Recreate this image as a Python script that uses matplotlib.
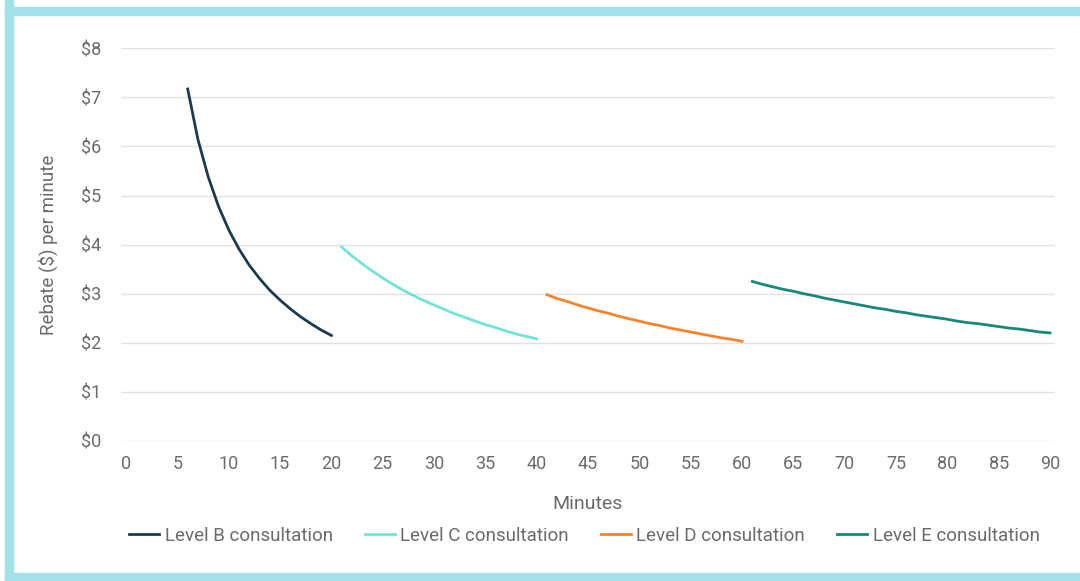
import matplotlib.pyplot as plt
from matplotlib.patches import Rectangle

plt.rcParams['font.family'] = ['Roboto', 'DejaVu Sans']

# rebate per minute at each whole minute
level_b_min = list(range(6, 21))
level_b = [7.17, 6.14, 5.38, 4.78, 4.30, 3.91, 3.58, 3.31, 3.07, 2.87,
           2.69, 2.53, 2.39, 2.26, 2.15]

level_c_min = list(range(21, 41))
level_c = [3.95, 3.77, 3.61, 3.46, 3.32, 3.19, 3.07, 2.96, 2.86, 2.77,
           2.68, 2.59, 2.52, 2.44, 2.37, 2.31, 2.24, 2.18, 2.13, 2.08]

level_d_min = list(range(41, 61))
level_d = [2.98, 2.90, 2.84, 2.77, 2.71, 2.65, 2.60, 2.54, 2.49, 2.44,
           2.39, 2.35, 2.30, 2.26, 2.22, 2.18, 2.14, 2.10, 2.07, 2.03]

level_e_min = list(range(61, 91))
level_e = [3.25, 3.19, 3.14, 3.09, 3.05, 3.00, 2.96, 2.91, 2.87, 2.83,
           2.79, 2.75, 2.71, 2.68, 2.64, 2.61, 2.57, 2.54, 2.51, 2.48,
           2.44, 2.41, 2.39, 2.36, 2.33, 2.30, 2.28, 2.25, 2.22, 2.20]

x_ticks = list(range(0, 91, 5))
y_ticks = list(range(0, 9))

txt = '#6b6b6b'

fig = plt.figure(figsize=(10.8, 5.81), dpi=100)
ax = fig.add_axes([0.112, 0.241, 0.865, 0.676])

ax.plot(level_b_min, level_b, color='#1d3b4f', lw=2, label='Level B consultation')
ax.plot(level_c_min, level_c, color='#72e3d8', lw=2, label='Level C consultation')
ax.plot(level_d_min, level_d, color='#f7842c', lw=2, label='Level D consultation')
ax.plot(level_e_min, level_e, color='#16897a', lw=2, label='Level E consultation')

ax.set_xlim(-0.5, 90.5)
ax.set_ylim(0, 8)
ax.set_xticks(x_ticks)
ax.set_yticks(y_ticks)
ax.set_yticklabels(['$' + str(v) for v in y_ticks])
ax.tick_params(length=0, labelsize=13, colors=txt, pad=10)
ax.tick_params(axis='y', pad=14)
ax.grid(axis='y', color='#e2e2e2', lw=1)
ax.set_axisbelow(True)
for s in ax.spines.values():
    s.set_visible(False)

ax.set_xlabel('Minutes', fontsize=14, color=txt, labelpad=16)
ax.set_ylabel('Rebate ($) per minute', fontsize=13.5, color=txt, labelpad=17)

ax.legend(loc='center', bbox_to_anchor=(0.496, -0.242), ncol=4, frameon=False,
          fontsize=13.5, labelcolor=txt, handlelength=1.6, handletextpad=0.3,
          columnspacing=1.7)

# cyan frame (left, top, bottom)
c = '#a2e1e7'
W, H = 1080, 581
fig.patches.append(Rectangle((5 / W, 0), 8 / W, 1, transform=fig.transFigure, color=c, zorder=0))
fig.patches.append(Rectangle((5 / W, 1 - 15 / H), 1, 8 / H, transform=fig.transFigure, color=c, zorder=0))
fig.patches.append(Rectangle((5 / W, 0), 1, 8 / H, transform=fig.transFigure, color=c, zorder=0))

fig.savefig('out.png', dpi=100)
